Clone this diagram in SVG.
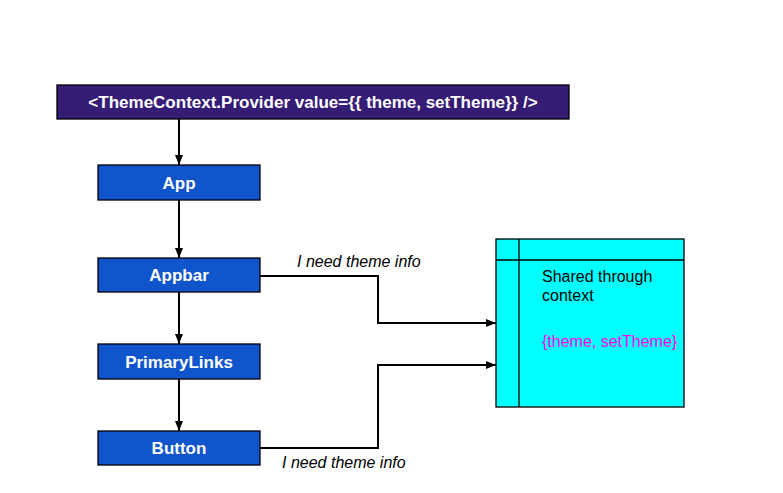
<svg xmlns="http://www.w3.org/2000/svg" width="783" height="493" viewBox="0 0 783 493">
<style>
.box{stroke:#000;stroke-width:1.3}
.node{fill:#1155cc}
.lbl{font-family:"Liberation Sans",Arial,sans-serif;font-weight:bold;font-size:17px;fill:#fff;text-anchor:middle}
.it{font-family:"Liberation Sans",Arial,sans-serif;font-style:italic;font-size:16px;fill:#000}
.txt{font-family:"Liberation Sans",Arial,sans-serif;font-size:16px;fill:#000}
.con{fill:none;stroke:#000;stroke-width:2}
</style>
<defs>
<marker id="ah" markerWidth="10" markerHeight="8" refX="10" refY="4" orient="auto" markerUnits="userSpaceOnUse">
<path d="M0,0 L10,4 L0,8 Z" fill="#000"/>
</marker>
</defs>
<rect width="783" height="493" fill="#fff"/>
<g id="connectors">
<path class="con" d="M179,119 V165" marker-end="url(#ah)"/>
<path class="con" d="M179,200 V258" marker-end="url(#ah)"/>
<path class="con" d="M179,292 V344" marker-end="url(#ah)"/>
<path class="con" d="M179,379 V431" marker-end="url(#ah)"/>
<path class="con" d="M260,276 H378 V323 H496" marker-end="url(#ah)"/>
<path class="con" d="M260,448 H378 V365 H496" marker-end="url(#ah)"/>
<text class="it" x="297" y="267">I need theme info</text>
<text class="it" x="282" y="468">I need theme info</text>
</g>
<g id="provider">
<rect class="box" x="57" y="85" width="512" height="34" fill="#351c75"/>
<text class="lbl" x="313" y="108">&lt;ThemeContext.Provider value={{ theme, setTheme}} /&gt;</text>
</g>
<g id="app">
<rect class="box node" x="98" y="165" width="162" height="35"/>
<text class="lbl" x="179" y="188.5">App</text>
</g>
<g id="appbar">
<rect class="box node" x="98" y="258" width="162" height="34"/>
<text class="lbl" x="179" y="281">Appbar</text>
</g>
<g id="primarylinks">
<rect class="box node" x="98" y="344" width="162" height="35"/>
<text class="lbl" x="179" y="367.5">PrimaryLinks</text>
</g>
<g id="button">
<rect class="box node" x="98" y="431" width="162" height="34"/>
<text class="lbl" x="179" y="454">Button</text>
</g>
<g id="context">
<rect class="box" x="496" y="239" width="188" height="168" fill="#00ffff"/>
<line class="box" x1="519" y1="239" x2="519" y2="407"/>
<line class="box" x1="496" y1="260" x2="684" y2="260"/>
<text class="txt" x="542" y="282">Shared through</text>
<text class="txt" x="542" y="301">context</text>
<text class="txt" x="542" y="347" fill="#ff00ff" style="fill:#ff00ff">{theme, setTheme}</text>
</g>
</svg>
